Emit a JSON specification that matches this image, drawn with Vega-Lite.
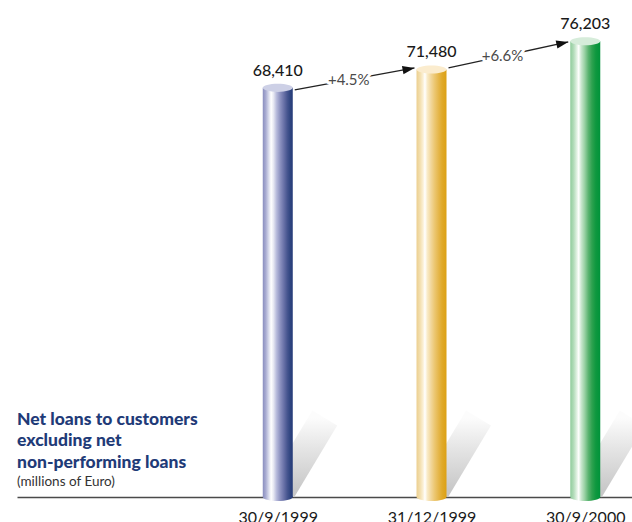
{
  "$schema": "https://vega.github.io/schema/vega-lite/v6.json",
  "width": 615,
  "height": 497,
  "autosize": "none",
  "padding": {"left": 17, "top": 0, "right": 0, "bottom": 25},
  "background": "#ffffff",
  "config": {"view": {"stroke": null}, "font": "Lato"},
  "datasets": {
    "loans": [
      {"date": "30/9/1999", "value": 68410, "label": "68,410"},
      {"date": "31/12/1999", "value": 71480, "label": "71,480"},
      {"date": "30/9/2000", "value": 76203, "label": "76,203"}
    ],
    "growth": [
      {"from": "30/9/1999", "to": "31/12/1999", "start": 68060, "end": 71740, "mid": 69700, "label": "+4.5%"},
      {"from": "31/12/1999", "to": "30/9/2000", "start": 71740, "end": 76090, "mid": 73720, "label": "+6.6%"}
    ]
  },
  "layer": [
    {
      "data": {"name": "loans"},
      "mark": {"type": "rule", "xOffset": 4, "x2Offset": 47, "strokeWidth": 29, "strokeCap": "butt",
        "stroke": {"gradient": "linear", "x1": 0, "y1": 1, "x2": 0, "y2": 0,
          "stops": [{"offset": 0, "color": "#c8c8c8"}, {"offset": 0.6, "color": "#e6e6e6"}, {"offset": 1, "color": "#fcfcfc"}]}},
      "encoding": {
        "x": {"field": "date", "type": "ordinal", "sort": null,
          "scale": {"type": "point", "domain": ["30/9/1999", "31/12/1999", "30/9/2000"], "padding": 1.0098, "align": 0.848},
          "axis": {"title": null, "labelAngle": 0, "ticks": false, "labelPadding": 12, "labelFontSize": 16, "labelColor": "#1a1a1a", "labelFont": "Lato", "domainColor": "#4a4a4a", "domainWidth": 1.3, "grid": false, "labelBaseline": "top"}},
        "x2": {"field": "date"},
        "y": {"datum": 1200, "type": "quantitative", "scale": {"domain": [0, 83100], "nice": false, "zero": true}, "axis": null},
        "y2": {"datum": 13200}
      }
    },
    {
      "data": {"name": "loans"},
      "transform": [{"filter": "datum.date === '30/9/1999'"}],
      "encoding": {"x": {"field": "date", "type": "ordinal", "sort": null, "title": null}},
      "layer": [
        {"mark": {"type": "bar", "width": 30, "strokeWidth": 0,
          "fill": {"gradient": "linear", "x1": 0, "y1": 0, "x2": 1, "y2": 0, "stops": [
            {"offset": 0, "color": "#8a8ebf"}, {"offset": 0.1, "color": "#a9acd2"}, {"offset": 0.2, "color": "#d9dbec"},
            {"offset": 0.28, "color": "#ffffff"}, {"offset": 0.36, "color": "#e6e7f2"}, {"offset": 0.46, "color": "#b7badb"},
            {"offset": 0.58, "color": "#8d92c0"}, {"offset": 0.7, "color": "#6a72a8"}, {"offset": 0.82, "color": "#46558f"},
            {"offset": 0.92, "color": "#2f447f"}, {"offset": 1, "color": "#243a78"}]}},
          "encoding": {"y": {"field": "value", "type": "quantitative", "axis": null}}},
        {"mark": {"type": "point", "size": 900, "filled": true, "opacity": 1, "strokeWidth": 0,
          "shape": "M-1,0 C-1,-0.149 -0.552,-0.27 0,-0.27 C0.552,-0.27 1,-0.149 1,0 C1,0.149 0.552,0.27 0,0.27 C-0.552,0.27 -1,0.149 -1,0 Z",
          "fill": {"gradient": "linear", "x1": 0, "y1": 0, "x2": 1, "y2": 0, "stops": [
            {"offset": 0, "color": "#8a8ebf"}, {"offset": 0.1, "color": "#a9acd2"}, {"offset": 0.2, "color": "#d9dbec"},
            {"offset": 0.28, "color": "#ffffff"}, {"offset": 0.36, "color": "#e6e7f2"}, {"offset": 0.46, "color": "#b7badb"},
            {"offset": 0.58, "color": "#8d92c0"}, {"offset": 0.7, "color": "#6a72a8"}, {"offset": 0.82, "color": "#46558f"},
            {"offset": 0.92, "color": "#2f447f"}, {"offset": 1, "color": "#243a78"}]}},
          "encoding": {"y": {"datum": 0, "type": "quantitative", "axis": null}}},
        {"mark": {"type": "point", "size": 900, "filled": true, "opacity": 1, "strokeWidth": 0, "fill": "#cdd0e6",
          "shape": "M-1,0 C-1,-0.149 -0.552,-0.27 0,-0.27 C0.552,-0.27 1,-0.149 1,0 C1,0.149 0.552,0.27 0,0.27 C-0.552,0.27 -1,0.149 -1,0 Z"},
          "encoding": {"y": {"field": "value", "type": "quantitative", "axis": null}}}
      ]
    },
    {
      "data": {"name": "loans"},
      "transform": [{"filter": "datum.date === '31/12/1999'"}],
      "encoding": {"x": {"field": "date", "type": "ordinal", "sort": null, "title": null}},
      "layer": [
        {"mark": {"type": "bar", "width": 30, "strokeWidth": 0,
          "fill": {"gradient": "linear", "x1": 0, "y1": 0, "x2": 1, "y2": 0, "stops": [
            {"offset": 0, "color": "#eccf8f"}, {"offset": 0.12, "color": "#f3dfae"}, {"offset": 0.22, "color": "#fbf0d6"},
            {"offset": 0.28, "color": "#ffffff"}, {"offset": 0.36, "color": "#f9ebc8"}, {"offset": 0.48, "color": "#f2d79c"},
            {"offset": 0.6, "color": "#ecc772"}, {"offset": 0.72, "color": "#e6b84f"}, {"offset": 0.85, "color": "#e0aa2a"},
            {"offset": 1, "color": "#dca014"}]}},
          "encoding": {"y": {"field": "value", "type": "quantitative", "axis": null}}},
        {"mark": {"type": "point", "size": 900, "filled": true, "opacity": 1, "strokeWidth": 0,
          "shape": "M-1,0 C-1,-0.149 -0.552,-0.27 0,-0.27 C0.552,-0.27 1,-0.149 1,0 C1,0.149 0.552,0.27 0,0.27 C-0.552,0.27 -1,0.149 -1,0 Z",
          "fill": {"gradient": "linear", "x1": 0, "y1": 0, "x2": 1, "y2": 0, "stops": [
            {"offset": 0, "color": "#eccf8f"}, {"offset": 0.12, "color": "#f3dfae"}, {"offset": 0.22, "color": "#fbf0d6"},
            {"offset": 0.28, "color": "#ffffff"}, {"offset": 0.36, "color": "#f9ebc8"}, {"offset": 0.48, "color": "#f2d79c"},
            {"offset": 0.6, "color": "#ecc772"}, {"offset": 0.72, "color": "#e6b84f"}, {"offset": 0.85, "color": "#e0aa2a"},
            {"offset": 1, "color": "#dca014"}]}},
          "encoding": {"y": {"datum": 0, "type": "quantitative", "axis": null}}},
        {"mark": {"type": "point", "size": 900, "filled": true, "opacity": 1, "strokeWidth": 0, "fill": "#fbecce",
          "shape": "M-1,0 C-1,-0.149 -0.552,-0.27 0,-0.27 C0.552,-0.27 1,-0.149 1,0 C1,0.149 0.552,0.27 0,0.27 C-0.552,0.27 -1,0.149 -1,0 Z"},
          "encoding": {"y": {"field": "value", "type": "quantitative", "axis": null}}}
      ]
    },
    {
      "data": {"name": "loans"},
      "transform": [{"filter": "datum.date === '30/9/2000'"}],
      "encoding": {"x": {"field": "date", "type": "ordinal", "sort": null, "title": null}},
      "layer": [
        {"mark": {"type": "bar", "width": 30, "strokeWidth": 0,
          "fill": {"gradient": "linear", "x1": 0, "y1": 0, "x2": 1, "y2": 0, "stops": [
            {"offset": 0, "color": "#8fcc9c"}, {"offset": 0.12, "color": "#b5ddbc"}, {"offset": 0.22, "color": "#e2f2e4"},
            {"offset": 0.28, "color": "#ffffff"}, {"offset": 0.36, "color": "#cde8d1"}, {"offset": 0.48, "color": "#99d1a3"},
            {"offset": 0.6, "color": "#5db472"}, {"offset": 0.72, "color": "#2fa250"}, {"offset": 0.85, "color": "#0f983f"},
            {"offset": 1, "color": "#00933a"}]}},
          "encoding": {"y": {"field": "value", "type": "quantitative", "axis": null}}},
        {"mark": {"type": "point", "size": 900, "filled": true, "opacity": 1, "strokeWidth": 0,
          "shape": "M-1,0 C-1,-0.149 -0.552,-0.27 0,-0.27 C0.552,-0.27 1,-0.149 1,0 C1,0.149 0.552,0.27 0,0.27 C-0.552,0.27 -1,0.149 -1,0 Z",
          "fill": {"gradient": "linear", "x1": 0, "y1": 0, "x2": 1, "y2": 0, "stops": [
            {"offset": 0, "color": "#8fcc9c"}, {"offset": 0.12, "color": "#b5ddbc"}, {"offset": 0.22, "color": "#e2f2e4"},
            {"offset": 0.28, "color": "#ffffff"}, {"offset": 0.36, "color": "#cde8d1"}, {"offset": 0.48, "color": "#99d1a3"},
            {"offset": 0.6, "color": "#5db472"}, {"offset": 0.72, "color": "#2fa250"}, {"offset": 0.85, "color": "#0f983f"},
            {"offset": 1, "color": "#00933a"}]}},
          "encoding": {"y": {"datum": 0, "type": "quantitative", "axis": null}}},
        {"mark": {"type": "point", "size": 900, "filled": true, "opacity": 1, "strokeWidth": 0, "fill": "#d6ecda",
          "shape": "M-1,0 C-1,-0.149 -0.552,-0.27 0,-0.27 C0.552,-0.27 1,-0.149 1,0 C1,0.149 0.552,0.27 0,0.27 C-0.552,0.27 -1,0.149 -1,0 Z"},
          "encoding": {"y": {"field": "value", "type": "quantitative", "axis": null}}}
      ]
    },
    {
      "data": {"name": "loans"},
      "mark": {"type": "text", "dy": -12, "baseline": "alphabetic", "align": "center", "fontSize": 16, "fontWeight": 500, "color": "#1a1a1a", "font": "Lato"},
      "encoding": {
        "x": {"field": "date", "type": "ordinal", "sort": null, "title": null},
        "y": {"field": "value", "type": "quantitative", "axis": null},
        "text": {"field": "label"}
      }
    },
    {
      "data": {"name": "growth"},
      "mark": {"type": "rule", "xOffset": 17, "x2Offset": -17, "stroke": "#222222", "strokeWidth": 1.3},
      "encoding": {
        "x": {"field": "from", "type": "ordinal", "sort": null, "title": null},
        "x2": {"field": "to"},
        "y": {"field": "start", "type": "quantitative", "axis": null},
        "y2": {"field": "end"}
      }
    },
    {
      "data": {"name": "growth"},
      "transform": [{"filter": "datum.label === '+4.5%'"}],
      "mark": {"type": "point", "shape": "M0,0 L-2,-0.7 L-2,0.7 Z", "size": 144, "filled": true, "opacity": 1, "fill": "#111111", "strokeWidth": 0, "xOffset": -17, "angle": 349.5},
      "encoding": {
        "x": {"field": "to", "type": "ordinal", "sort": null, "title": null},
        "y": {"field": "end", "type": "quantitative", "axis": null}
      }
    },
    {
      "data": {"name": "growth"},
      "transform": [{"filter": "datum.label === '+6.6%'"}],
      "mark": {"type": "point", "shape": "M0,0 L-2,-0.7 L-2,0.7 Z", "size": 144, "filled": true, "opacity": 1, "fill": "#111111", "strokeWidth": 0, "xOffset": -17, "angle": 347.7},
      "encoding": {
        "x": {"field": "to", "type": "ordinal", "sort": null, "title": null},
        "y": {"field": "end", "type": "quantitative", "axis": null}
      }
    },
    {
      "data": {"name": "growth"},
      "mark": {"type": "text", "xOffset": 71, "baseline": "middle", "align": "center", "fontSize": 15, "font": "Lato", "color": "#ffffff", "stroke": "#ffffff", "strokeWidth": 6, "strokeJoin": "round"},
      "encoding": {
        "x": {"field": "from", "type": "ordinal", "sort": null, "title": null},
        "y": {"field": "mid", "type": "quantitative", "axis": null},
        "text": {"field": "label"}
      }
    },
    {
      "data": {"name": "growth"},
      "mark": {"type": "text", "xOffset": 71, "baseline": "middle", "align": "center", "fontSize": 15, "font": "Lato", "color": "#4a4a4a"},
      "encoding": {
        "x": {"field": "from", "type": "ordinal", "sort": null, "title": null},
        "y": {"field": "mid", "type": "quantitative", "axis": null},
        "text": {"field": "label"}
      }
    },
    {
      "data": {"values": [{}]},
      "mark": {"type": "text", "text": ["Net loans to customers", "excluding net", "non-performing loans"], "align": "left", "baseline": "alphabetic", "fontSize": 17.5, "fontWeight": 900, "font": "Lato", "color": "#1f3b78", "lineHeight": 21.5},
      "encoding": {
        "x": {"value": 0},
        "y": {"datum": 12040, "type": "quantitative", "axis": null}
      }
    },
    {
      "data": {"values": [{}]},
      "mark": {"type": "text", "text": "(millions of Euro)", "align": "left", "baseline": "alphabetic", "fontSize": 13.5, "font": "Lato", "color": "#333333"},
      "encoding": {
        "x": {"value": 0},
        "y": {"datum": 1900, "type": "quantitative", "axis": null}
      }
    }
  ]
}
